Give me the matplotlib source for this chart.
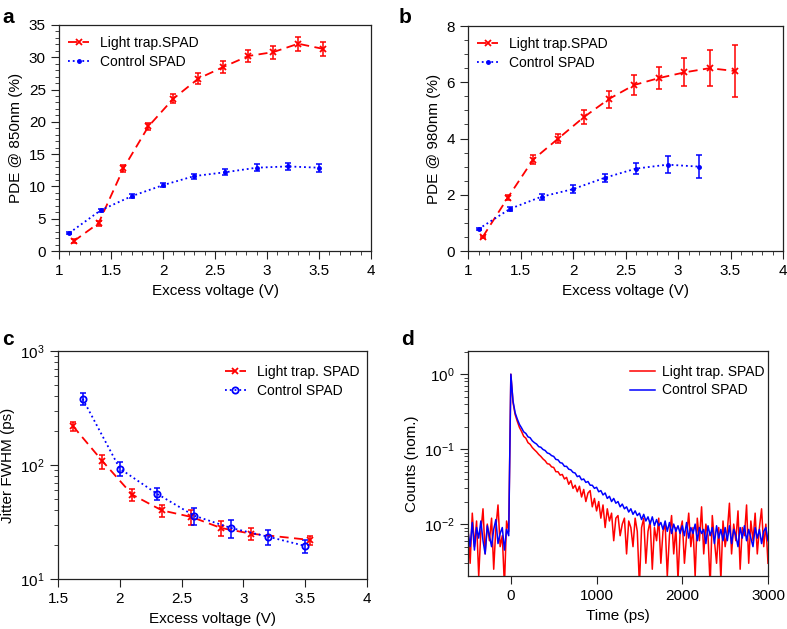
import numpy as np
import matplotlib
matplotlib.use('Agg')
import matplotlib.pyplot as plt
from matplotlib.ticker import MultipleLocator, LogLocator, NullFormatter, NullLocator

plt.rcParams['font.family'] = ['Liberation Sans', 'DejaVu Sans']
plt.rcParams['font.size'] = 10
plt.rcParams['mathtext.fontset'] = 'custom'
plt.rcParams['mathtext.rm'] = 'Liberation Sans'

RED = '#ff0000'
BLUE = '#0000ff'
AXC = '#222222'

# ---- panel a: PDE @ 850 nm ----
v_trap = [1.14, 1.38, 1.62, 1.86, 2.10, 2.34, 2.58, 2.82, 3.06, 3.30, 3.54]
pde850_trap = [1.5, 4.3, 12.8, 19.3, 23.6, 26.7, 28.5, 30.2, 30.8, 32.1, 31.3]
pde850_trap_err = [0.3, 0.4, 0.5, 0.6, 0.7, 0.8, 0.9, 1.0, 1.0, 1.1, 1.1]
v_ctrl = [1.1, 1.4, 1.7, 2.0, 2.3, 2.6, 2.9, 3.2, 3.5]
pde850_ctrl = [2.8, 6.3, 8.5, 10.2, 11.6, 12.2, 12.9, 13.1, 12.9]
pde850_ctrl_err = [0.1, 0.2, 0.3, 0.35, 0.4, 0.45, 0.5, 0.55, 0.65]

# ---- panel b: PDE @ 980 nm ----
pde980_trap = [0.5, 1.9, 3.25, 4.0, 4.75, 5.4, 5.9, 6.15, 6.35, 6.5, 6.4]
pde980_trap_err = [0.05, 0.1, 0.15, 0.15, 0.25, 0.3, 0.35, 0.4, 0.5, 0.65, 0.92]
v_ctrl_b = [1.1, 1.4, 1.7, 2.0, 2.3, 2.6, 2.9, 3.2]
pde980_ctrl = [0.78, 1.5, 1.93, 2.2, 2.6, 2.93, 3.07, 3.0]
pde980_ctrl_err = [0.04, 0.07, 0.1, 0.13, 0.15, 0.2, 0.3, 0.42]

# ---- panel c: jitter ----
v_jit_trap = [1.62, 1.86, 2.10, 2.34, 2.58, 2.82, 3.06, 3.54]
jit_trap = [220, 108, 55, 40, 35, 28, 25, 22]
jit_trap_err = [20, 15, 7, 5, 5, 4, 3, 2]
v_jit_ctrl = [1.7, 2.0, 2.3, 2.6, 2.9, 3.2, 3.5]
jit_ctrl = [380, 93, 56, 36, 28, 23.5, 19.5]
jit_ctrl_err = [45, 13, 7, 6, 5, 3.5, 2.5]

# ---- panel d: timing histograms (counts x1e-3), 25 ps bins from -500 ps ----
t_ps = np.arange(-500, 3001, 25)
trap_milli = [
    9, 3, 14, 5, 11, 2, 8, 16, 4, 10,
    6, 12, 2.5, 9, 18, 5, 7, 1.5, 11, 8,
    1000, 420, 290, 235, 195, 172, 148, 140, 122, 116,
    105, 98, 92, 85, 80, 74, 70, 64, 63, 58,
    57, 50, 50, 45, 46, 40, 42, 34, 38, 30,
    33, 27, 32, 23, 29, 20, 26, 28, 17, 22,
    15, 20, 12, 18, 9, 16, 11, 14, 6, 12,
    13, 7, 10, 12, 4, 11, 9, 5, 12, 8,
    1.5, 9, 12, 3, 8, 11, 2.5, 9, 6, 12,
    3, 8, 10, 2, 7, 13, 4, 9, 1.8, 8,
    11, 3, 7, 14, 5, 9, 2, 12, 6, 17,
    4, 10, 7, 1.5, 13, 6, 3, 9, 1.8, 11,
    5, 8, 19, 4, 10, 6, 15, 2.5, 9, 7,
    18, 3, 11, 6, 14, 4, 9, 16, 5, 10,
    3,
]
ctrl_milli = [
    8, 5, 10.5, 4.5, 9, 6.5, 11, 6, 4, 9.5,
    7, 5, 8.5, 11.5, 5.5, 7.5, 9, 4.5, 8.5, 7,
    1000, 440, 305, 252, 214, 192, 170, 162, 146, 142,
    129, 122, 117, 108, 106, 99, 96, 89, 87, 82,
    80, 73, 72, 66, 65, 59, 59, 54, 53, 49,
    48, 43, 44, 39, 40, 36, 37, 33, 33, 30,
    31, 27, 28, 24.5, 26, 22, 23.5, 20, 22, 19,
    20, 17, 18.5, 16, 17, 14.5, 16, 13.5, 15, 13,
    14, 11.5, 13.5, 11, 12.5, 10, 12.5, 9.5, 11.5, 9.5,
    10.5, 8.5, 11, 8, 10.5, 7.5, 10, 8, 9.5, 7.5,
    9.5, 7, 10.5, 6.5, 9, 7.5, 10, 6, 9, 7.5,
    8.5, 5.5, 9.5, 7, 9, 5.5, 9.5, 6.5, 8.5, 6,
    9, 6, 9.5, 5.5, 8.5, 7, 5, 9, 6.5, 9.5,
    6, 8.5, 6.5, 5, 9, 6.5, 8.5, 5.5, 8, 9,
    6,
]

W, H = 787, 629
fig = plt.figure(figsize=(W / 100, H / 100), dpi=100)


def px_axes(left, top, right, bottom):
    return fig.add_axes([left / W, 1 - bottom / H, (right - left) / W, (bottom - top) / H])


def style(ax):
    for s in ax.spines.values():
        s.set_color(AXC)
        s.set_linewidth(0.9)
    ax.tick_params(which='both', direction='out', top=False, right=False, color=AXC, labelsize=11)
    ax.tick_params(which='major', length=5.5, pad=4)
    ax.tick_params(which='minor', length=3)


def pde_panel(ax, yt, yte, yc, yce, vc):
    ax.errorbar(v_trap, yt, yerr=yte, fmt='none', ecolor=RED, elinewidth=1.1, capsize=2, capthick=1.1)
    ax.errorbar(vc, yc, yerr=yce, fmt='none', ecolor=BLUE, elinewidth=1.1, capsize=2, capthick=1.1)
    ax.plot(v_trap, yt, color=RED, ls=(0, (5, 3)), lw=1.3, marker='x', ms=5, mew=1.3, label='Light trap.SPAD')
    ax.plot(vc, yc, color=BLUE, ls=':', lw=1.3, marker='o', ms=2.5, label='Control SPAD')
    ax.set_xlim(1, 4)
    ax.xaxis.set_major_locator(MultipleLocator(0.5))
    ax.xaxis.set_minor_locator(MultipleLocator(0.1))
    ax.xaxis.set_major_formatter(plt.FuncFormatter(lambda v, p: f'{v:g}'))
    ax.set_xlabel('Excess voltage (V)', fontsize=11)
    style(ax)
    ax.legend(loc='upper left', bbox_to_anchor=(0.03, 0.95), frameon=False, fontsize=10,
              handlelength=1.5, handletextpad=0.8, labelspacing=0.35, borderpad=0, borderaxespad=0)


ax_a = px_axes(59, 25, 371, 251)
pde_panel(ax_a, pde850_trap, pde850_trap_err, pde850_ctrl, pde850_ctrl_err, v_ctrl)
ax_a.set_ylim(0, 35)
ax_a.yaxis.set_major_locator(MultipleLocator(5))
ax_a.yaxis.set_minor_locator(MultipleLocator(1))
ax_a.set_ylabel('PDE @ 850nm (%)', fontsize=11)

ax_b = px_axes(468, 26, 783, 251)
pde_panel(ax_b, pde980_trap, pde980_trap_err, pde980_ctrl, pde980_ctrl_err, v_ctrl_b)
ax_b.set_ylim(0, 8)
ax_b.yaxis.set_major_locator(MultipleLocator(2))
ax_b.yaxis.set_minor_locator(MultipleLocator(0.5))
ax_b.set_ylabel('PDE @ 980nm (%)', fontsize=11)

# panel c
ax_c = px_axes(58, 351, 367, 579)
ax_c.errorbar(v_jit_trap, jit_trap, yerr=jit_trap_err, fmt='none', ecolor=RED, elinewidth=1.1, capsize=2, capthick=1.1)
ax_c.errorbar(v_jit_ctrl, jit_ctrl, yerr=jit_ctrl_err, fmt='none', ecolor=BLUE, elinewidth=1.1, capsize=2, capthick=1.1)
ax_c.plot(v_jit_trap, jit_trap, color=RED, ls=(0, (5, 3)), lw=1.3, marker='x', ms=5, mew=1.3, label='Light trap. SPAD')
ax_c.plot(v_jit_ctrl, jit_ctrl, color=BLUE, ls=':', lw=1.3, marker='o', ms=4.5, mfc='none', mew=1.3, label='Control SPAD')
ax_c.set_yscale('log')
ax_c.set_ylim(10, 1000)
ax_c.set_xlim(1.5, 4)
ax_c.xaxis.set_major_locator(MultipleLocator(0.5))
ax_c.xaxis.set_minor_locator(NullLocator())
ax_c.xaxis.set_major_formatter(plt.FuncFormatter(lambda v, p: f'{v:g}'))
ax_c.yaxis.set_minor_locator(LogLocator(base=10, subs=np.arange(2, 10), numticks=20))
ax_c.yaxis.set_minor_formatter(NullFormatter())
ax_c.set_xlabel('Excess voltage (V)', fontsize=11)
ax_c.set_ylabel('Jitter FWHM (ps)', fontsize=11)
style(ax_c)
ax_c.legend(loc='upper left', bbox_to_anchor=(0.54, 0.94), frameon=False, fontsize=10,
            handlelength=1.5, handletextpad=0.8, labelspacing=0.35, borderpad=0, borderaxespad=0)

# panel d
ax_d = px_axes(468, 351, 768, 576)
ax_d.plot(t_ps, np.array(trap_milli) / 1000, color=RED, lw=1.1, label='Light trap. SPAD')
ax_d.plot(t_ps, np.array(ctrl_milli) / 1000, color=BLUE, lw=1.1, label='Control SPAD')
ax_d.set_yscale('log')
ax_d.set_ylim(0.00203, 2.04)
ax_d.set_xlim(-500, 3000)
ax_d.xaxis.set_major_locator(MultipleLocator(1000))
ax_d.xaxis.set_minor_locator(NullLocator())
ax_d.yaxis.set_major_locator(LogLocator(base=10, numticks=10))
ax_d.yaxis.set_minor_locator(LogLocator(base=10, subs=np.arange(2, 10), numticks=20))
ax_d.yaxis.set_minor_formatter(NullFormatter())
ax_d.set_xlabel('Time (ps)', fontsize=11)
ax_d.set_ylabel('Counts (nom.)', fontsize=11)
style(ax_d)
ax_d.legend(loc='upper left', bbox_to_anchor=(0.54, 0.94), frameon=False, fontsize=10,
            handlelength=1.8, handletextpad=0.5, labelspacing=0.35, borderpad=0, borderaxespad=0)

for lbl, x, y in [('a', 2, 8), ('b', 399, 8), ('c', 2, 330), ('d', 401, 330)]:
    fig.text(x / W, 1 - y / H, lbl, fontsize=15, fontweight='bold', va='top', ha='left')

fig.savefig('out.png', dpi=100)
